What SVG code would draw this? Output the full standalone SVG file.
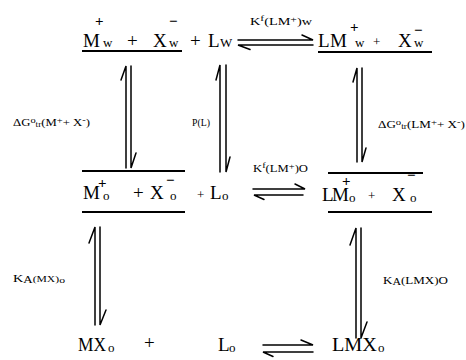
<svg xmlns="http://www.w3.org/2000/svg" width="466" height="360" viewBox="0 0 466 360">
<style>
text{font-family:"Liberation Serif","Times New Roman",serif;fill:#000}
.m{font-size:19px}
.sb{font-size:13px}
.sp{font-size:15px;font-weight:bold}
.lab{font-size:11px}
.rule{stroke:#000;stroke-width:1.8;fill:none}
.arr{stroke:#000;stroke-width:1.5;fill:none;stroke-linecap:round}
</style>
<rect width="466" height="360" fill="#fff"/>
<g id="n_water_left">
<text class="m" x="83" y="47">M</text>
<text class="sp" x="95" y="26">+</text>
<text class="sb" x="103" y="47">w</text>
<text class="m" x="127" y="47">+</text>
<text class="m" x="153" y="47">X</text>
<text class="sp" x="169" y="26">−</text>
<text class="sb" x="169" y="47">w</text>
<text class="m" x="190" y="47">+</text>
<text class="m" x="208" y="47">L</text>
<text class="sb" x="220" y="47" font-size="11">W</text>
<line class="rule" x1="82" y1="51" x2="182" y2="51"/>
</g>
<g id="n_water_right">
<text class="m" x="318" y="47">L</text>
<text class="m" x="330" y="47">M</text>
<text class="sp" x="350" y="32">+</text>
<text class="sb" x="355" y="47">w</text>
<text class="sb" x="373" y="46">+</text>
<text class="m" x="398" y="47">X</text>
<text class="sp" x="414" y="35">−</text>
<text class="sb" x="414" y="47">w</text>
<line class="rule" x1="318" y1="52" x2="432" y2="52"/>
</g>
<g id="n_org_left">
<line class="rule" x1="82" y1="171" x2="185" y2="171"/>
<text class="m" x="83" y="199">M</text>
<text class="sp" x="98" y="188">+</text>
<text class="sb" x="103" y="200">o</text>
<text class="m" x="133" y="199">+</text>
<text class="m" x="150" y="199">X</text>
<text class="sp" x="166" y="185">−</text>
<text class="sb" x="170" y="200">o</text>
<text class="sb" x="197" y="199">+</text>
<text class="m" x="210" y="199">L</text>
<text class="sb" x="222" y="200">o</text>
<line class="rule" x1="82" y1="212" x2="185" y2="212"/>
</g>
<g id="n_org_right">
<line class="rule" x1="328" y1="173" x2="423" y2="173"/>
<text class="m" x="322" y="201">L</text>
<text class="m" x="332" y="201">M</text>
<text class="sp" x="342" y="186">+</text>
<text class="sb" x="349" y="202">o</text>
<text class="sb" x="368" y="200">+</text>
<text class="m" x="392" y="201">X</text>
<text class="sp" x="407" y="180">−</text>
<text class="sb" x="410" y="202">o</text>
<line class="rule" x1="328" y1="212" x2="432" y2="212"/>
</g>
<g id="n_pair_bottom">
<text class="m" x="78" y="351" textLength="28" lengthAdjust="spacingAndGlyphs">MX</text>
<text class="sb" x="108" y="352" font-size="15">o</text>
<text class="m" x="144" y="349">+</text>
<text class="m" x="218" y="351">L</text>
<text class="sb" x="229" y="352" font-size="15">o</text>
</g>
<g id="n_complex_bottom">
<text class="m" x="332" y="351" textLength="45" lengthAdjust="spacingAndGlyphs">LMX</text>
<text class="sb" x="378" y="352" font-size="15">o</text>
</g>
<g id="connectors">
<path class="arr" d="M238,40 H313 L302,35 M313,45 H238 L250,49.5"/>
<path class="arr" d="M253,189 H305 L295,184 M303,195 H254 L264,199.5"/>
<path class="arr" d="M263,345 H313 L301,340 M313,352 H263 L273,356.5"/>
<path class="arr" d="M126,168 V66 L121,80 M131,66 V168 L136,153"/>
<path class="arr" d="M220,172 V65 L216,80 M226,65 V172 L230,157"/>
<path class="arr" d="M357,162 V68 L353,82 M362,68 V162 L366,148"/>
<path class="arr" d="M95,325 V227 L89,243 M100,227 V325 L106,310"/>
<path class="arr" d="M356,338 V228 L350,245 M361,228 V338 L367,322"/>
</g>
<g id="labels">
<text class="lab" x="250" y="25" font-size="12" textLength="62" lengthAdjust="spacingAndGlyphs">K<tspan dy="-4" font-size="9">f</tspan><tspan dy="4">(LM</tspan><tspan dy="-3" font-size="9">+</tspan><tspan dy="3">)w</tspan></text>
<text class="lab" x="253" y="172" font-size="12" textLength="55" lengthAdjust="spacingAndGlyphs">K<tspan dy="-4" font-size="9">f</tspan><tspan dy="4">(LM</tspan><tspan dy="-3" font-size="9">+</tspan><tspan dy="3">)O</tspan></text>
<text class="lab" x="13" y="126" textLength="77" lengthAdjust="spacingAndGlyphs">ΔG<tspan font-size="9" dy="-3">o</tspan><tspan font-size="8" dy="4">tr</tspan><tspan dy="-1">(M</tspan><tspan font-size="9" dy="-3">+</tspan><tspan dy="3">+ X</tspan><tspan font-size="9" dy="-3">-</tspan><tspan dy="3">)</tspan></text>
<text class="lab" x="192" y="126" textLength="18" lengthAdjust="spacingAndGlyphs">P(L)</text>
<text class="lab" x="378" y="128" textLength="87" lengthAdjust="spacingAndGlyphs">ΔG<tspan font-size="9" dy="-3">o</tspan><tspan font-size="8" dy="4">tr</tspan><tspan dy="-1">(LM</tspan><tspan font-size="9" dy="-3">+</tspan><tspan dy="3">+ X</tspan><tspan font-size="9" dy="-3">-</tspan><tspan dy="3">)</tspan></text>
<text class="lab" x="13" y="282" textLength="52" lengthAdjust="spacingAndGlyphs">K<tspan font-size="10" dy="1">A</tspan><tspan font-size="9" dy="-1">(MX)</tspan><tspan font-size="9" dy="1">o</tspan></text>
<text class="lab" x="383" y="284" textLength="65" lengthAdjust="spacingAndGlyphs">K<tspan font-size="10" dy="1">A</tspan><tspan dy="-1">(LMX)</tspan>O</text>
</g>
</svg>
